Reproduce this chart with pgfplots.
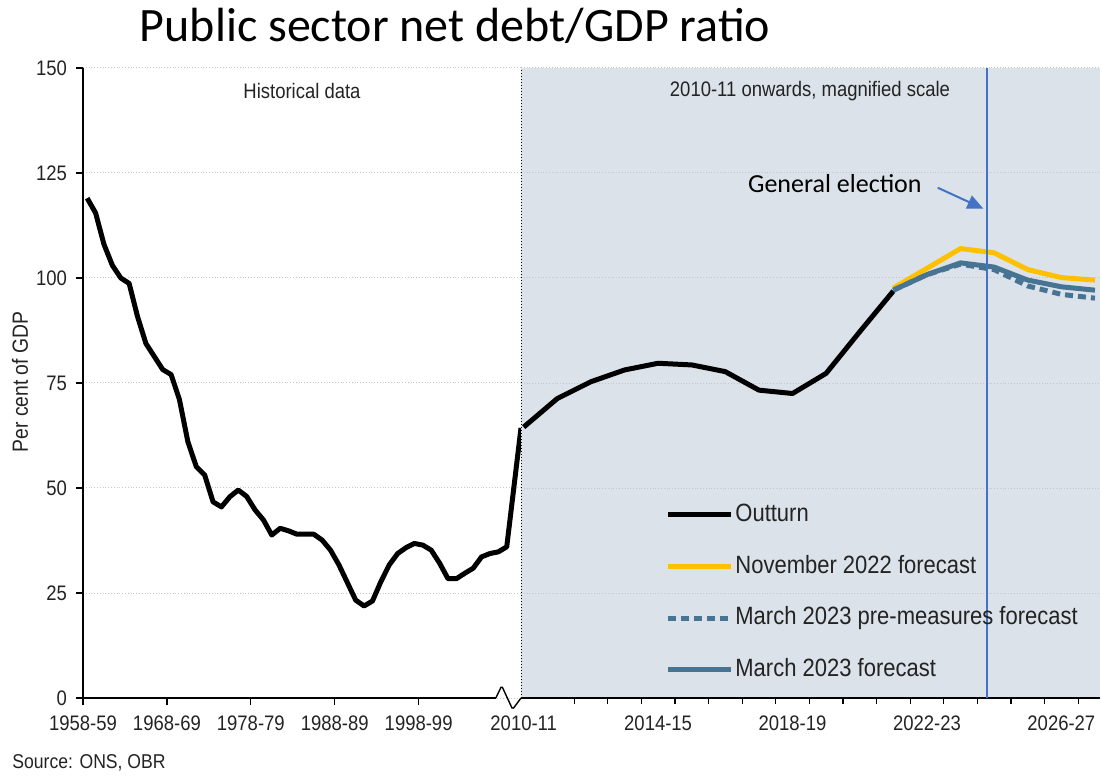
\documentclass[border=0pt]{standalone}
\usepackage{fontspec}
\setmainfont{Liberation Sans}[FakeStretch=0.88]
\newfontfamily\titlefont{Carlito}
\usepackage{pgfplots}
\pgfplotsset{compat=1.18}
\usetikzlibrary{arrows.meta}
\definecolor{bgshade}{RGB}{219,226,233}
\definecolor{obryellow}{RGB}{255,192,0}
\definecolor{obrblue}{RGB}{72,116,148}
\definecolor{elecblue}{RGB}{68,114,196}
\definecolor{gridgrey}{RGB}{200,200,200}
\definecolor{txt}{RGB}{35,35,35}
\newcommand{\tickfont}{\fontsize{10.5}{12}\selectfont}
\begin{document}
\begin{tikzpicture}
\useasboundingbox (0,0) rectangle (551pt,388.5pt);
% ---------------- Left panel: historical data ----------------
\begin{axis}[
  scale only axis, width=219pt, height=315pt,
  at={(41.5pt,39.5pt)}, anchor=south west,
  xmin=0, xmax=52.2, ymin=0, ymax=150,
  clip=false,
  axis x line*=bottom, axis y line*=left,
  x axis line style={draw=none,-},
  y axis line style={line width=0.7pt,-,black},
  ytick={0,25,50,75,100,125,150},
  ymajorgrids,
  major grid style={gridgrey, densely dotted, line width=0.5pt},
  xtick={0,10,20,30,40},
  xticklabels={1958-59,1968-69,1978-79,1988-89,1998-99},
  tick align=outside, major tick length=3.5pt,
  tick style={black, line width=0.6pt},
  ticklabel style={font=\tickfont, text=txt},
  xticklabel style={yshift=-2pt},
  yticklabel style={xshift=-1pt},
  /pgf/number format/assume math mode=true,
]
\addplot[black, line width=2.5pt, line join=round] coordinates {
(0.5,119) (1.5,115.5) (2.5,108) (3.5,103) (4.5,100) (5.5,98.7) (6.5,90.8)
(7.5,84.4) (8.5,81.3) (9.5,78.2) (10.5,77) (11.5,71) (12.5,61) (13.5,55.1)
(14.5,53.1) (15.5,46.7) (16.5,45.5) (17.5,47.9) (18.5,49.5) (19.5,48)
(20.5,44.8) (21.5,42.4) (22.5,38.8) (23.5,40.4) (24.5,39.8) (25.5,39)
(26.5,39) (27.5,39) (28.5,37.6) (29.5,35.2) (30.5,31.7) (31.5,27.5)
(32.5,23.3) (33.5,21.9) (34.5,23.1) (35.5,27.7) (36.5,31.7) (37.5,34.4)
(38.5,35.8) (39.5,36.8) (40.5,36.4) (41.5,35.2) (42.5,32.1) (43.5,28.4)
(44.5,28.4) (45.5,29.7) (46.5,30.9) (47.5,33.6) (48.5,34.4) (49.5,34.8)
(50.5,36) (52.2,64.3)
};
\draw[black, line width=0.7pt] (axis cs:0,0) -- (axis cs:49.2,0);
\draw[black, line width=0.7pt, rounded corners=0.8pt]
  (axis cs:49.2,0) -- (axis cs:49.9,2.9) -- (axis cs:51.2,-2.7) -- (axis cs:52.2,0);
\node[font=\tickfont, text=txt] at (axis cs:26.1,144.5) {Historical data};
\end{axis}
% ---------------- Right panel: magnified scale ----------------
\begin{axis}[
  scale only axis, width=289.5pt, height=315pt,
  at={(260.5pt,39.5pt)}, anchor=south west,
  xmin=-0.08, xmax=17.15, ymin=0, ymax=150,
  axis background/.style={fill=bgshade},
  axis x line*=bottom, axis y line*=left,
  x axis line style={line width=0.7pt,-,black},
  y axis line style={draw=none,-},
  ytick={25,50,75,100,125,150}, yticklabels={},
  ymajorgrids,
  major grid style={gridgrey!80!black!60, densely dotted, line width=0.5pt},
  xtick={0,4,8,12,16},
  xticklabels={2010-11,2014-15,2018-19,2022-23,2026-27},
  minor xtick={1.5,2.5,3.5,4.5,5.5,6.5,7.5,8.5,9.5,10.5,11.5,12.5,13.5,14.5,15.5,16.5},
  tick align=outside, major tick length=0pt, minor tick length=3pt,
  tick style={black, line width=0.6pt},
  xticklabel style={font=\tickfont, text=txt, yshift=-5.5pt},
  legend cell align=left,
  legend style={at={(0.2487,0.3127)}, anchor=north west, draw=none, fill=none,
    inner sep=0pt, row sep=12.3pt, font=\fontsize{12.5}{14}\selectfont, text=txt,
    nodes={inner sep=1pt, text height=9pt, text depth=2.5pt}},
  legend image code/.code={\draw[#1, line width=2.5pt] (0pt,0pt) -- (31.5pt,0pt);},
]
\addplot[black, line width=2.5pt, line join=round] coordinates {
(0,64.5) (1,71.3) (2,75.3) (3,78.1) (4,79.7) (5,79.3) (6,77.7) (7,73.3)
(8,72.5) (9,77.3) (10,87.2) (11,96.9)
};
\addlegendentry{Outturn}
\addplot[obryellow, line width=2.5pt, line join=round] coordinates {
(11,97.6) (12,102.3) (13,107) (14,106) (15,102) (16,100.1) (17,99.5)
};
\addlegendentry{November 2022 forecast}
\addplot[obrblue, line width=2.5pt, line join=round, dash pattern=on 4pt off 2.5pt] coordinates {
(11,97.1) (12,100.8) (13,103.3) (14,102) (15,98.1) (16,96.1) (17,95.2)
};
\addlegendentry{March 2023 pre-measures forecast}
\addplot[obrblue, line width=2.5pt, line join=round] coordinates {
(11,97.1) (12,100.8) (13,103.6) (14,102.6) (15,99.5) (16,97.9) (17,97.1)
};
\addlegendentry{March 2023 forecast}
\addplot[color=elecblue, line width=0.75pt, forget plot] coordinates {(13.79,0) (13.79,150)};
\draw[black, densely dotted, line width=0.5pt] (rel axis cs:0,0) -- (rel axis cs:0,1);
\node[font=\tickfont, text=txt] at (axis cs:8.52,144.5) {2010-11 onwards, magnified scale};
\node[font=\titlefont\fontsize{13}{15}\selectfont] at (axis cs:9.26,122.6) {General election};
\draw[elecblue, line width=1pt, -{Triangle[length=8pt,width=7pt]}]
  (axis cs:12.32,121.5) -- (axis cs:13.68,116.5);
\end{axis}
% ---------------- Titles and notes ----------------
\node[font=\titlefont\fontsize{24}{28}\selectfont, anchor=base] at (227.5pt,367.5pt)
  {Public sector net debt/GDP ratio};
\node[rotate=90, font=\fontsize{11}{12}\selectfont, text=txt] at (10pt,197.5pt) {Per cent of GDP};
\node[anchor=west, inner sep=0pt, font=\fontsize{10}{12}\selectfont, text=txt] at (6pt,7pt)
  {Source: ONS, OBR};
\end{tikzpicture}
\end{document}
